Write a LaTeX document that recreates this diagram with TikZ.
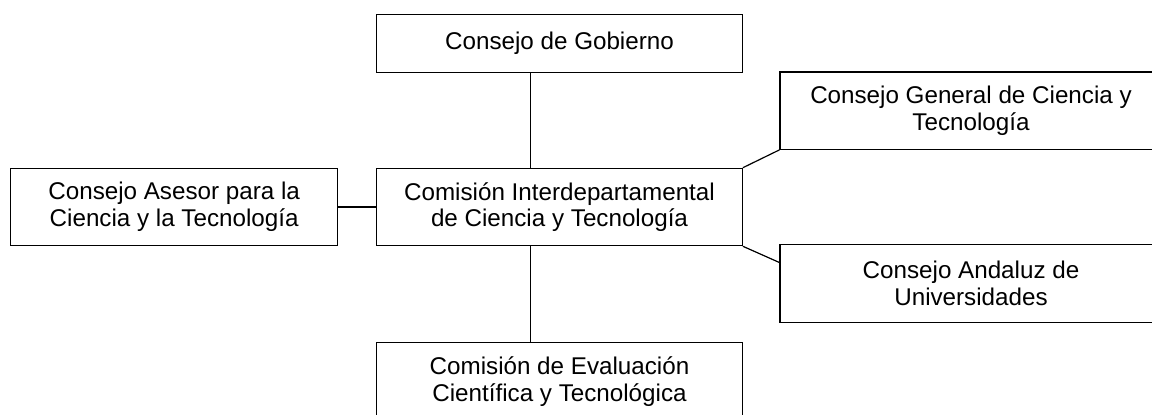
\documentclass[tikz,border=0pt]{standalone}
\usepackage{fontspec}
\setmainfont{Liberation Sans}
\usepackage{tikz}
\usetikzlibrary{positioning}

\tikzset{
  org/.style={draw, line width=0.6pt, rectangle, align=center, inner sep=0pt,
    minimum width=182.8pt, minimum height=38.7pt,
    font=\fontsize{12.1pt}{13.35pt}\selectfont},
  orgwide/.style={org, minimum width=191pt},
  link/.style={line width=0.6pt}
}

\begin{document}
\begin{tikzpicture}

     \clip (0,0) rectangle (576pt,207pt);
     \fill[white] (0,0) rectangle (576pt,207pt);

     % Define nodes
     \node[org, minimum height=28.8pt] (gob)     at (279.75pt,185.25pt) {Consejo de Gobierno};
     \node[org]                        (cit)     at (279.75pt,103.5pt) {Comisión Interdepartamental\\de Ciencia y Tecnología};
     \node[org, minimum width=163.65pt, left=18.85pt of cit] (asesor) {Consejo Asesor para la\\Ciencia y la Tecnología};
     \node[org]                        (eval)    at (279.75pt,16.3pt) {Comisión de Evaluación\\Científica y Tecnológica};
     \node[orgwide]                    (general) at (485.5pt,151.7pt) {Consejo General de Ciencia y\\Tecnología};
     \node[orgwide]                    (andaluz) at (485.5pt,65.25pt) {Consejo Andaluz de\\Universidades};

     % Connect the nodes
     \draw[link] ([xshift=-14.4pt]gob.south) -- ([xshift=-14.4pt]cit.north);
     \draw[link] ([xshift=-14.4pt]cit.south) -- ([xshift=-14.4pt]eval.north);
     \draw[link] (asesor) -- (cit);
     \draw[link] (cit.north east) -- (general.south west);
     \draw[link] (cit.south east) -- ([yshift=-9.15pt]andaluz.north west);

\end{tikzpicture}
\end{document}
